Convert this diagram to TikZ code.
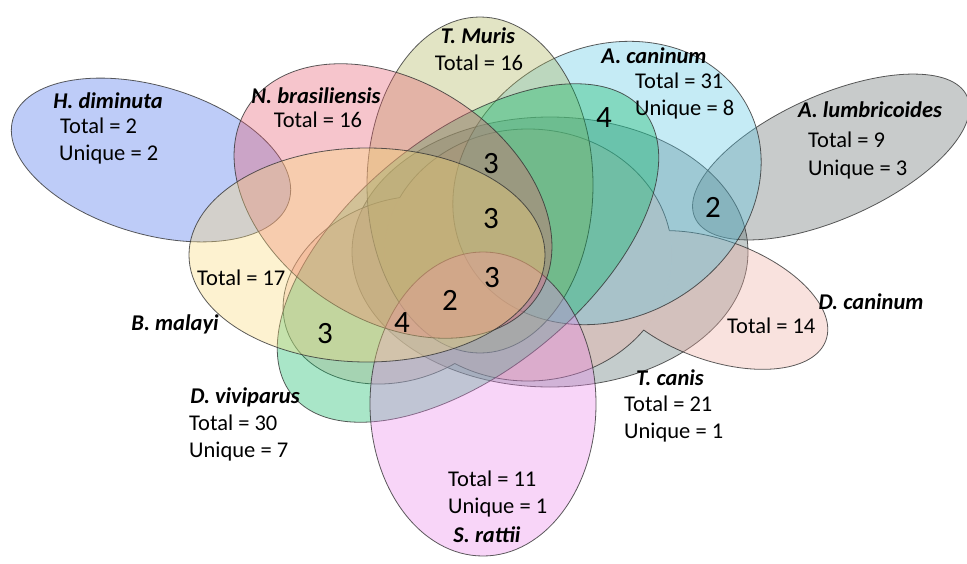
\documentclass[tikz,border=0pt]{standalone}
\usepackage{fontspec}
\setmainfont{Carlito}
\definecolor{cHd}{RGB}{69,109,235}
\definecolor{cNb}{RGB}{229,90,109}
\definecolor{cTm}{RGB}{172,178,87}
\definecolor{cAc}{RGB}{89,198,227}
\definecolor{cAl}{RGB}{98,107,107}
\definecolor{cBm}{RGB}{250,218,120}
\definecolor{cDv}{RGB}{10,184,98}
\definecolor{cSr}{RGB}{235,135,235}
\definecolor{cTc}{RGB}{86,109,109}
\definecolor{cDc}{RGB}{238,172,161}
\begin{document}
\begin{tikzpicture}[x=1pt,y=-1pt,
  ol/.style={draw=black!80, draw opacity=0.8, line width=0.8pt},
  setfill/.style={fill=#1, fill opacity=0.35},
  lab/.style={inner sep=0pt, font=\fontsize{22.5}{27}\selectfont},
  ttl/.style={inner sep=0pt, font=\fontsize{22.5}{27}\selectfont\bfseries\itshape},
  num/.style={inner sep=0pt, font=\fontsize{31}{36}\selectfont}]
\useasboundingbox (0,0) rectangle (967,563);

% sets
\path[ol, setfill=cHd, rotate around={-16.5:(151,160)}] (151,160) ellipse (144 and 74);
\path[ol, setfill=cAl, rotate around={24:(831,157)}] (831,157) ellipse (149 and 62);
\path[ol, setfill=cTc] (550,252) ellipse (198 and 135);

% D. caninum: union of three lobes
\fill[cDc, fill opacity=0.35] (528,255) ellipse (144 and 126);
\begin{scope}[even odd rule]
  \clip (-50,-50) rectangle (1050,650) (528,255) ellipse (144 and 126);
  \path[ol, setfill=cDc, rotate around={-20:(715,300)}] (715,300) ellipse (118 and 60);
  \path[ol, setfill=cDc, rotate around={20:(400,290)}] (400,290) ellipse (120 and 90);
\end{scope}
\begin{scope}[even odd rule]
  \clip (-50,-50) rectangle (1050,650)
     {[rotate around={-20:(715,300)}] (715,300) ellipse (118 and 60)}
     {[rotate around={20:(400,290)}] (400,290) ellipse (120 and 90)};
  \draw[ol] (528,255) ellipse (144 and 126);
\end{scope}

\path[ol, setfill=cAc, rotate around={30:(607,183)}] (607,183) ellipse (160 and 135);
\path[ol, setfill=cTm] (480,185) ellipse (113 and 168);
\path[ol, setfill=cDv, rotate around={39:(468,253)}] (468,253) ellipse (226 and 118);
\path[ol, setfill=cSr] (483,404) ellipse (113 and 152);
\path[ol, setfill=cNb, rotate around={-33:(393,201)}] (393,201) ellipse (173 and 119);
\path[ol, setfill=cBm] (367,255) ellipse (178 and 107);

% labels
\node[ttl, anchor=base] (hdT) at (108,108) {H. diminuta};
\node[lab, anchor=base west] (hdA) at (60,133) {Total = 2};
\node[lab, anchor=base west] (hdB) at (59,160) {Unique = 2};

\node[ttl, anchor=base] (nbT) at (316,103) {N. brasiliensis};
\node[lab, anchor=base] (nbA) at (318,127) {Total = 16};

\node[ttl, anchor=base] (tmT) at (478,43) {T. Muris};
\node[lab, anchor=base] (tmA) at (479,70) {Total = 16};

\node[ttl, anchor=base] (acT) at (654,63) {A. caninum};
\node[lab, anchor=base west] (acA) at (635,88) {Total = 31};
\node[lab, anchor=base west] (acB) at (635,115) {Unique = 8};

\node[ttl, anchor=base] (alT) at (870,117) {A. lumbricoides};
\node[lab, anchor=base west] (alA) at (808,147) {Total = 9};
\node[lab, anchor=base west] (alB) at (808,175) {Unique = 3};

\node[ttl, anchor=base] (bmT) at (175,330) {B. malayi};
\node[lab, anchor=base west] (bmA) at (197,285) {Total = 17};

\node[ttl, anchor=base] (dvT) at (245,403) {D. viviparus};
\node[lab, anchor=base west] (dvA) at (189,430) {Total = 30};
\node[lab, anchor=base west] (dvB) at (189,457) {Unique = 7};

\node[ttl, anchor=base] (srT) at (487,542) {S. rattii};
\node[lab, anchor=base west] (srA) at (448,486) {Total = 11};
\node[lab, anchor=base west] (srB) at (448,513) {Unique = 1};

\node[ttl, anchor=base] (tcT) at (670,385) {T. canis};
\node[lab, anchor=base west] (tcA) at (624,411) {Total = 21};
\node[lab, anchor=base west] (tcB) at (624,438) {Unique = 1};

\node[ttl, anchor=base] (dcT) at (871,309) {D. caninum};
\node[lab, anchor=base west] (dcA) at (727,333) {Total = 14};

% intersection counts
\node[num, anchor=base] (n1) at (604,127) {4};
\node[num, anchor=base] (n2) at (491,173) {3};
\node[num, anchor=base] (n3) at (491,228) {3};
\node[num, anchor=base] (n4) at (492,287) {3};
\node[num, anchor=base] (n5) at (450,310) {2};
\node[num, anchor=base] (n6) at (402,332) {4};
\node[num, anchor=base] (n7) at (325,343) {3};
\node[num, anchor=base] (n8) at (713,217) {2};
\end{tikzpicture}
\end{document}
